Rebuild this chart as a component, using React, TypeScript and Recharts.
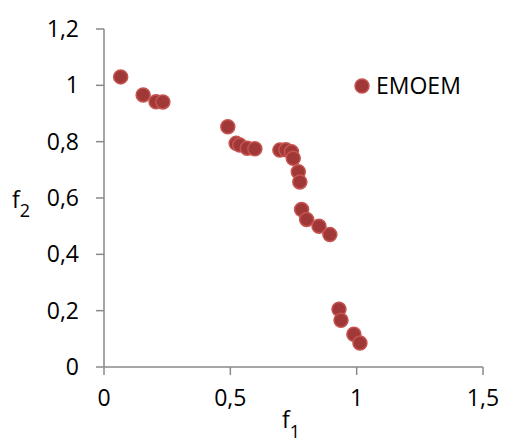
import { ScatterChart, Scatter, XAxis, YAxis } from "recharts";

const f1 = [
  0.066, 0.155, 0.206, 0.233, 0.49, 0.523, 0.537, 0.567, 0.597, 0.696, 0.72,
  0.742, 0.749, 0.769, 0.775, 0.782, 0.802, 0.851, 0.894, 0.93, 0.938, 0.989,
  1.013,
];
const f2 = [
  1.03, 0.966, 0.942, 0.941, 0.853, 0.794, 0.788, 0.777, 0.775, 0.77, 0.771,
  0.764, 0.741, 0.693, 0.657, 0.559, 0.524, 0.5, 0.47, 0.205, 0.166, 0.116,
  0.085,
];
const xTicks = [0, 0.5, 1, 1.5];
const yTicks = [0, 0.2, 0.4, 0.6, 0.8, 1, 1.2];
const seriesName = "EMOEM";

const data = f1.map((x, i) => ({ x, y: f2[i] }));

const FILL = "#a03838";
const EDGE = "#c65451";
const AXIS = "#898989";
const FONT = "'Open Sans', sans-serif";

const fmt = (v: number) => String(v).replace(".", ",");

function Dot(props: any) {
  const { cx, cy } = props;
  return <circle cx={cx} cy={cy} r={7} fill={FILL} stroke={EDGE} strokeWidth={1.5} />;
}

// axis title f1 plus the legend entry, drawn in the svg so no space is reserved for it
function XTitle() {
  return (
    <g fontFamily={FONT}>
      <text x={282} y={428} fill="#000" fontSize={23}>
        f<tspan fontSize={18} dy={10}>1</tspan>
      </text>
      <circle cx={362} cy={86} r={7} fill={FILL} stroke={EDGE} strokeWidth={1.5} />
      <text x={376} y={94} fill="#000" fontSize={23}>
        {seriesName}
      </text>
    </g>
  );
}

export default function App() {
  return (
    <div style={{ position: "absolute", left: 0, top: 0, background: "#fff" }}>
      <ScatterChart
        width={505}
        height={443}
        margin={{ top: 29, right: 22, left: 0, bottom: 0 }}
        style={{ fontFamily: FONT }}
      >
        <XAxis
          type="number"
          dataKey="x"
          domain={[0, 1.5]}
          ticks={xTicks}
          tickFormatter={fmt}
          height={76}
          stroke={AXIS}
          strokeWidth={1.5}
          tickSize={8}
          tickMargin={15}
          tick={{ fill: "#000", fontSize: 23 }}
          label={{ content: () => <XTitle /> }}
        />
        <YAxis
          type="number"
          dataKey="y"
          domain={[0, 1.2]}
          ticks={yTicks}
          tickFormatter={fmt}
          width={104}
          stroke={AXIS}
          strokeWidth={1.5}
          tickSize={8}
          tickMargin={17}
          tick={{ fill: "#000", fontSize: 23 }}
          label={{
            content: () => (
              <text x={12} y={208} fill="#000" fontSize={23} fontFamily={FONT}>
                f<tspan fontSize={18} dy={9}>2</tspan>
              </text>
            ),
          }}
        />
        <Scatter name={seriesName} data={data} shape={<Dot />} isAnimationActive={false} />
      </ScatterChart>
    </div>
  );
}
